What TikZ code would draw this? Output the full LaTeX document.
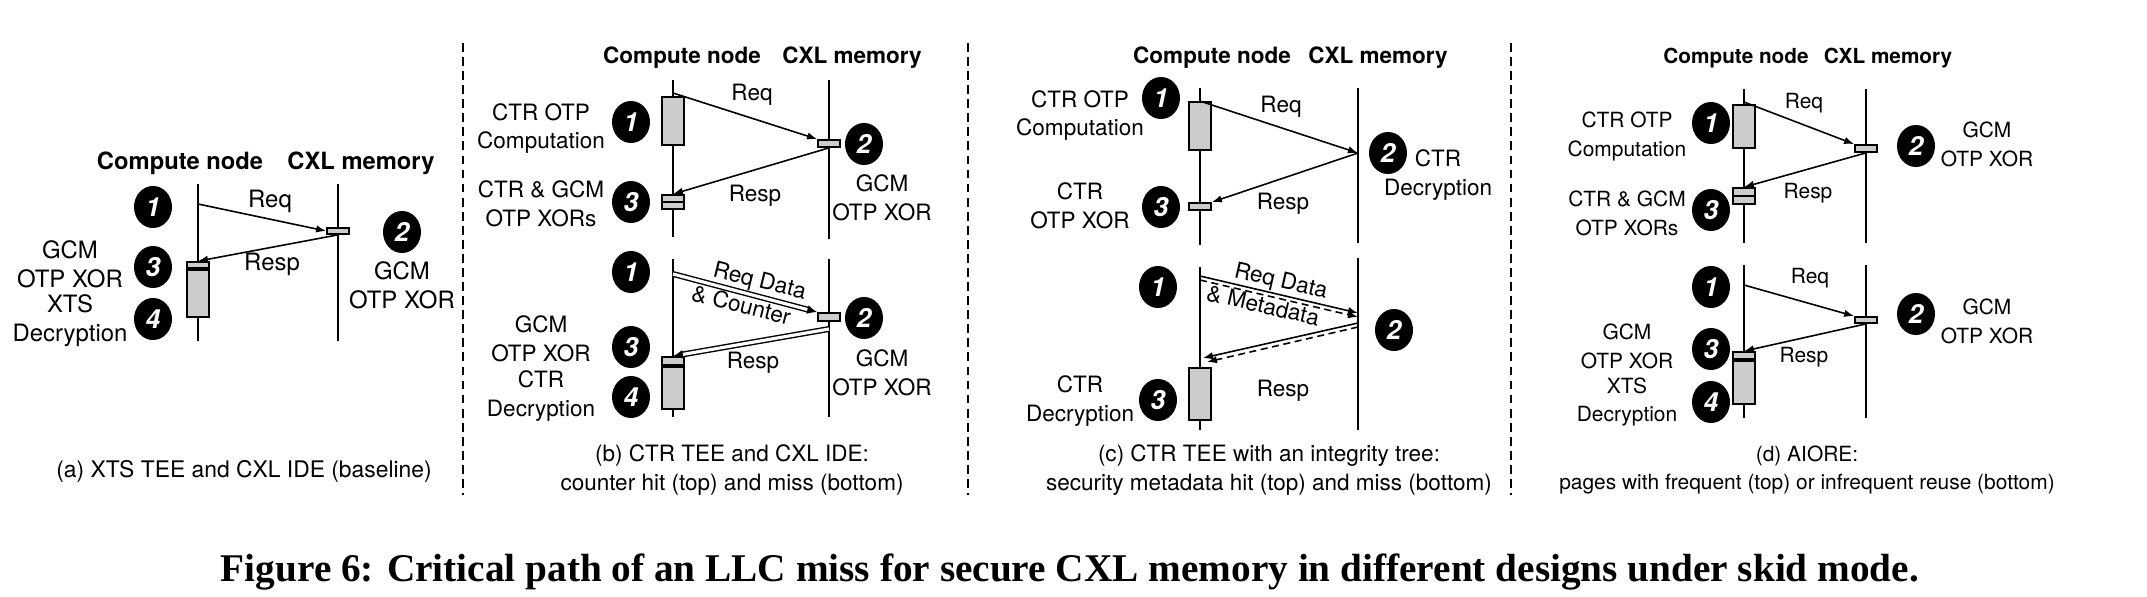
\documentclass[tikz,border=0pt]{standalone}
\usepackage{fontspec}
\usepackage{graphicx}
\setmainfont{TeX Gyre Heros}
\newfontfamily\capfont{Liberation Serif}
\usetikzlibrary{arrows.meta,shapes.geometric}

\definecolor{boxgray}{gray}{0.8}

\tikzset{
  txt/.style={font=\fontsize{#1}{8.2}\selectfont, align=center, inner sep=0pt}, txt/.default=6.4,
  hdr/.style={font=\fontsize{#1}{8}\selectfont\bfseries, inner sep=0pt}, hdr/.default=6.4,
  num/.style={ellipse, fill=black, inner sep=0pt, minimum width=0.38cm, minimum height=0.42cm,
    text=white, font=\fontsize{7.5}{8}\selectfont\bfseries\itshape},
  life/.style={line width=0.55pt},
  opbox/.style={draw, fill=boxgray, line width=0.5pt, inner sep=0pt, minimum width=0.22cm},
  msg/.style={line width=0.45pt, -{Latex[length=0.1cm,width=0.075cm]}},
  dblmsg/.style={line width=0.4pt, double, double distance=0.9pt, -{Latex[length=0.1cm,width=0.09cm]}},
  dashmsg/.style={msg, dash pattern=on 2pt off 1.3pt},
  sep/.style={line width=0.5pt, dash pattern=on 2.5pt off 1.5pt},
}

\begin{document}
\begin{tikzpicture}[x=0.01cm, y=-0.01cm]
    \useasboundingbox (0,0) rectangle (2147,597);

    % (a) baseline
    \begin{scope}[lbl/.style={txt=6.8}, head/.style={hdr=6.75}, capt/.style={txt=6.5}]
    \node[head] (a-cn) at (180,163) {Compute node};
    \node[head] (a-cm) at (361,163) {CXL memory};
    \draw[life] (198,184) -- (198,341);
    \draw[life] (338,184) -- (338,341);
    \node[opbox, minimum height=0.06cm] (a-gcm) at (338,231) {};
    \node[opbox, minimum height=0.06cm] (a-xor) at (198,265) {};
    \node[opbox, minimum height=0.47cm, anchor=north] (a-xts) at (a-xor.south) {};
    \coordinate (a-req) at (198,204);
    \draw[msg] (a-req) -- (a-gcm.west);
    \draw[msg] (a-gcm.south) -- (a-xor.north);
    \node[lbl] (a-reqt) at (270,201) {Req};
    \node[lbl] (a-rspt) at (272,264) {Resp};
    \node[num] (a-n1) at (153,207) {1};
    \node[num] (a-n2) at (402,232) {2};
    \node[num] (a-n3) at (153,267) {3};
    \node[num] (a-n4) at (153,319) {4};
    \node[lbl] (a-l3) at (70,264) {GCM\\OTP XOR};
    \node[lbl] (a-l4) at (70,321) {XTS\\Decryption};
    \node[lbl] (a-r2) at (402,285.5) {GCM\\OTP XOR};
    \node[capt] (a-cap) at (244,471) {(a) XTS TEE and CXL IDE (baseline)};
    \end{scope}

    \draw[sep] (463,43) -- (463,495);

    % (b) counter hit / miss
    \begin{scope}[lbl/.style={txt=6.4}, head/.style={hdr=6.4}, capt/.style={txt=6.4}]
    \node[head] (b-cn) at (682,58) {Compute node};
    \node[head] (b-cm) at (852,58) {CXL memory};
    \draw[life] (673,80) -- (673,237);
    \draw[life] (829,80) -- (829,239);
    \draw[life] (673,259) -- (673,417);
    \draw[life] (829,259) -- (829,417);
    \node[opbox, minimum height=0.48cm] (b-otp) at (673,121) {};
    \node[opbox, minimum height=0.07cm] (b-gcm1) at (829,143.5) {};
    \node[opbox, minimum height=0.07cm] (b-xor1) at (673,198.5) {};
    \node[opbox, minimum height=0.07cm] (b-xor2) at (673,205.5) {};
    \coordinate (b-req1) at (673,93);
    \draw[msg] (b-req1) -- (b-gcm1.north west);
    \draw[msg] (b-gcm1.south) -- (b-xor1.north);
    \node[lbl] (b-reqt1) at (752,95) {Req};
    \node[lbl] (b-rspt1) at (755,196) {Resp};
    \node[num] (b-n1) at (631,122) {1};
    \node[num] (b-n2) at (864,144) {2};
    \node[num] (b-n3) at (631,202) {3};
    \node[lbl] (b-l1) at (541,128.5) {CTR OTP\\Computation};
    \node[lbl] (b-l3) at (541,203.5) {CTR \& GCM\\OTP XORs};
    \node[lbl] (b-r2) at (882,197.5) {GCM\\OTP XOR};

    \node[opbox, minimum height=0.08cm] (b-gcm2) at (829,317) {};
    \node[opbox, minimum height=0.08cm] (b-xor3) at (673,361) {};
    \node[opbox, minimum height=0.42cm, anchor=north] (b-dec) at (b-xor3.south) {};
    \coordinate (b-req2) at (673,274);
    \coordinate (b-rsp2) at (829,329);
    \draw[dblmsg] (b-req2) -- (b-gcm2.north west);
    \draw[dblmsg] (b-rsp2) -- (b-xor3.north);
    \node[lbl, rotate=-14] (b-reqt2) at (756.5,294) {Req Data\\\& Counter\hspace*{0.24cm}};
    \node[lbl] (b-rspt2) at (753,363) {Resp};
    \node[num] (b-m1) at (631,272) {1};
    \node[num] (b-m2) at (864,318) {2};
    \node[num] (b-m3) at (631,347) {3};
    \node[num] (b-m4) at (631,397) {4};
    \node[lbl] (b-l3b) at (541,339) {GCM\\OTP XOR};
    \node[lbl] (b-l4b) at (541,396) {CTR\\Decryption};
    \node[lbl] (b-r2b) at (882,372.5) {GCM\\OTP XOR};
    \node[capt] (b-cap) at (732,470) {(b) CTR TEE and CXL IDE:\\counter hit (top) and miss (bottom)};
    \end{scope}

    \draw[sep] (968,43) -- (968,495);

    % (c) integrity tree
    \begin{scope}[lbl/.style={txt=6.4}, head/.style={hdr=6.4}, capt/.style={txt=6.4}]
    \node[head] (c-cn) at (1212,58) {Compute node};
    \node[head] (c-cm) at (1378,58) {CXL memory};
    \draw[life] (1200,88) -- (1200,245);
    \draw[life] (1358,88) -- (1358,243);
    \draw[life] (1200,267) -- (1200,430);
    \draw[life] (1358,258) -- (1358,430);
    \node[opbox, minimum height=0.48cm] (c-otp) at (1200,126) {};
    \node[opbox, minimum height=0.07cm] (c-xor) at (1200,206.5) {};
    \coordinate (c-mem1) at (1358,153);
    \draw[msg] (c-otp.north) -- (c-mem1);
    \draw[msg] (c-mem1) -- (c-xor.north east);
    \node[lbl] (c-reqt1) at (1281,107) {Req};
    \node[lbl] (c-rspt1) at (1283,204) {Resp};
    \node[num] (c-n1) at (1161,98) {1};
    \node[num] (c-n2) at (1388,153) {2};
    \node[num] (c-n3) at (1161,207) {3};
    \node[lbl] (c-l1) at (1080,115.5) {CTR OTP\\Computation};
    \node[lbl] (c-l3) at (1080,206) {CTR\\OTP XOR};
    \node[lbl] (c-r2) at (1438,175) {CTR\\Decryption};

    \node[opbox, minimum height=0.52cm] (c-dec) at (1200,394) {};
    \coordinate (c-req2) at (1200,276);
    \coordinate (c-req2d) at (1200,280);
    \coordinate (c-mem2) at (1358,313);
    \coordinate (c-mem2d) at (1358,317);
    \coordinate (c-mem3) at (1358,323);
    \coordinate (c-mem3d) at (1358,327);
    \coordinate (c-rsp2) at (1203,358);
    \coordinate (c-rsp2d) at (1207,362);
    \draw[msg] (c-req2) -- (c-mem2);
    \draw[dashmsg] (c-req2d) -- (c-mem2d);
    \draw[msg] (c-mem3) -- (c-rsp2);
    \draw[dashmsg] (c-mem3d) -- (c-rsp2d);
    \node[lbl, rotate=-13] (c-reqt2) at (1278,294) {Req Data\\\& Metadata\hspace*{0.24cm}};
    \node[lbl] (c-rspt2) at (1283,391) {Resp};
    \node[num] (c-m1) at (1158,287) {1};
    \node[num] (c-m2) at (1394,330) {2};
    \node[num] (c-m3) at (1158,400) {3};
    \node[lbl] (c-l3b) at (1080,401) {CTR\\Decryption};
    \node[capt] (c-cap) at (1269,470) {(c) CTR TEE with an integrity tree:\\security metadata hit (top) and miss (bottom)};
    \end{scope}

    \draw[sep] (1511,43) -- (1511,495);

    % (d) AIORE
    \begin{scope}[lbl/.style={txt=5.95}, head/.style={hdr=5.9}, capt/.style={txt=5.95}]
    \node[head] (d-cn) at (1736,58) {Compute node};
    \node[head] (d-cm) at (1888,58) {CXL memory};
    \draw[life] (1744,89) -- (1744,243);
    \draw[life] (1866,89) -- (1866,243);
    \draw[life] (1744,265) -- (1744,418);
    \draw[life] (1866,265) -- (1866,418);
    \node[opbox, minimum height=0.43cm] (d-otp) at (1744,126.5) {};
    \node[opbox, minimum height=0.07cm] (d-gcm1) at (1866,148.5) {};
    \node[opbox, minimum height=0.08cm] (d-xor1) at (1744,192) {};
    \node[opbox, minimum height=0.08cm] (d-xor2) at (1744,200) {};
    \coordinate (d-req1) at (1744,102);
    \draw[msg] (d-req1) -- (d-gcm1.north west);
    \draw[msg] (d-gcm1.south) -- (d-xor1.north);
    \node[lbl] (d-reqt1) at (1804,103) {Req};
    \node[lbl] (d-rspt1) at (1808,193) {Resp};
    \node[num] (d-n1) at (1711,123) {1};
    \node[num] (d-n2) at (1916,146) {2};
    \node[num] (d-n3) at (1711,210) {3};
    \node[lbl] (d-l1) at (1627,136.5) {CTR OTP\\Computation};
    \node[lbl] (d-l3) at (1627,213.5) {CTR \& GCM\\OTP XORs};
    \node[lbl] (d-r2) at (1987,144) {GCM\\OTP XOR};

    \node[opbox, minimum height=0.06cm] (d-gcm2) at (1866,320) {};
    \node[opbox, minimum height=0.07cm] (d-xor3) at (1744,355.5) {};
    \node[opbox, minimum height=0.43cm, anchor=north] (d-xts) at (d-xor3.south) {};
    \coordinate (d-req2) at (1744,285);
    \draw[msg] (d-req2) -- (d-gcm2.north west);
    \draw[msg] (d-gcm2.south) -- (d-xor3.north);
    \node[lbl] (d-reqt2) at (1810,278) {Req};
    \node[lbl] (d-rspt2) at (1804,357) {Resp};
    \node[num] (d-m1) at (1711,287) {1};
    \node[num] (d-m2) at (1916,314) {2};
    \node[num] (d-m3) at (1711,349) {3};
    \node[num] (d-m4) at (1711,402) {4};
    \node[lbl] (d-l3b) at (1627,346.5) {GCM\\OTP XOR};
    \node[lbl] (d-l4b) at (1627,402) {XTS\\Decryption};
    \node[lbl] (d-r2b) at (1987,321) {GCM\\OTP XOR};
    \node[capt] (d-cap) at (1807,470) {(d) AIORE:\\pages with frequent (top) or infrequent reuse (bottom)};
    \end{scope}

    \node[anchor=base, inner sep=0pt] (fig-cap) at (1070,581)
        {\resizebox{16.97cm}{!}{\capfont\bfseries\fontsize{10.5}{12}\selectfont Figure 6: Critical path of an LLC miss for secure CXL memory in different designs under skid mode.}};
\end{tikzpicture}
\end{document}
